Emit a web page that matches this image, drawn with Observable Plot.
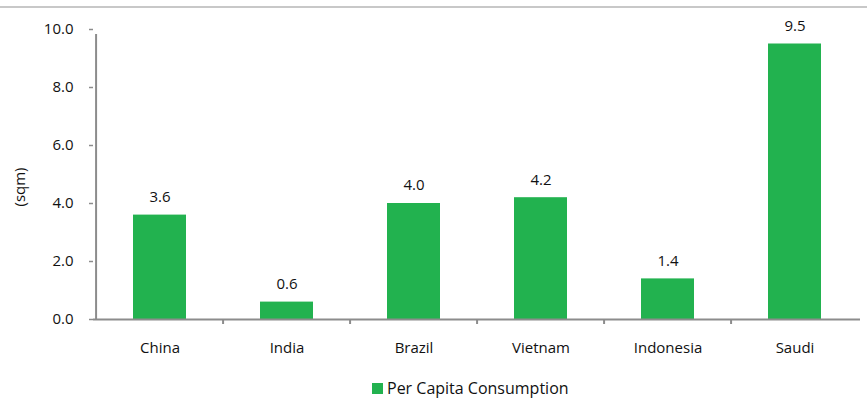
<!DOCTYPE html>
<html>
<head>
<meta charset="utf-8">
<script src="https://cdn.jsdelivr.net/npm/d3@7"></script>
<script src="https://cdn.jsdelivr.net/npm/@observablehq/plot@0.6"></script>
<style>
  html, body { margin: 0; padding: 0; background: #fff; }
  body { width: 867px; height: 399px; position: relative; overflow: hidden; font-family: "Open Sans", sans-serif; color: #111; }
  #topline { position: absolute; left: 0; top: 6px; width: 867px; height: 0; border-top: 2px solid #c8c8c8; }
  #chart { position: absolute; left: 0; top: 8px; }
  #ylabel { position: absolute; left: 19px; top: 187px; transform: translate(-50%, -50%) rotate(-90deg); font-size: 15px; white-space: nowrap; line-height: 1; }
  #legend { position: absolute; left: 372px; top: 377px; display: flex; align-items: center; font-size: 16px; }
  #legend .sw { width: 11px; height: 11px; background: #22b24f; margin-right: 4px; }
</style>
</head>
<body>
<div id="topline"></div>
<div id="chart"></div>
<div id="ylabel"></div>
<div id="legend"><span class="sw"></span><span id="legtext"></span></div>
<script>
const categories = ["China", "India", "Brazil", "Vietnam", "Indonesia", "Saudi"];
const values = [3.6, 0.6, 4.0, 4.2, 1.4, 9.5];
const yTicks = [0, 2, 4, 6, 8, 10];
const seriesName = "Per Capita Consumption";
const yLabel = "(sqm)";

document.getElementById("ylabel").textContent = yLabel;
document.getElementById("legtext").textContent = seriesName;

const data = categories.map((c, i) => ({category: c, value: values[i]}));

const W = 867, H = 362;
const mL = 93, mR = 7, mT = 21, mB = 51;
const step = (W - mL - mR) / categories.length;
const green = "#22b24f";
const axisColor = "#8c8c8c";
const textColor = "#111";

const chart = Plot.plot({
  width: W,
  height: H,
  marginLeft: mL,
  marginRight: mR,
  marginTop: mT,
  marginBottom: mB,
  style: {fontFamily: "Open Sans, sans-serif", fontSize: "15px", color: textColor, background: "#fff"},
  x: {domain: categories, paddingInner: 0.585, paddingOuter: 0.2925, align: 0.5},
  y: {domain: [0, 10]},
  marks: [
    Plot.axisY({
      ticks: yTicks,
      tickSize: 4,
      tickPadding: 16,
      tickFormat: d3.format(".1f"),
      stroke: axisColor,
      strokeOpacity: 1,
      strokeWidth: 1.5,
      fontSize: 15,
      fill: textColor,
      label: null
    }),
    Plot.axisX({
      tickSize: 0,
      tickPadding: 23,
      fontSize: 15,
      fill: textColor,
      label: null
    }),
    Plot.barY(data, {x: "category", y: "value", fill: green}),
    Plot.ruleY([0], {stroke: axisColor, strokeWidth: 2}),
    Plot.ruleX([categories[0]], {x: d => d, y1: 0, y2: 10, insetBottom: -5, dx: -step / 2, stroke: axisColor, strokeWidth: 2}),
    Plot.ruleX(categories.slice(1), {x: d => d, y1: 0, y2: 0, insetBottom: -5, dx: -step / 2, stroke: axisColor, strokeWidth: 2}),
    Plot.text(data, {x: "category", y: "value", text: d => d3.format(".1f")(d.value), dy: -18, fontSize: 15, fill: textColor})
  ]
});
document.getElementById("chart").appendChild(chart);
</script>
</body>
</html>
